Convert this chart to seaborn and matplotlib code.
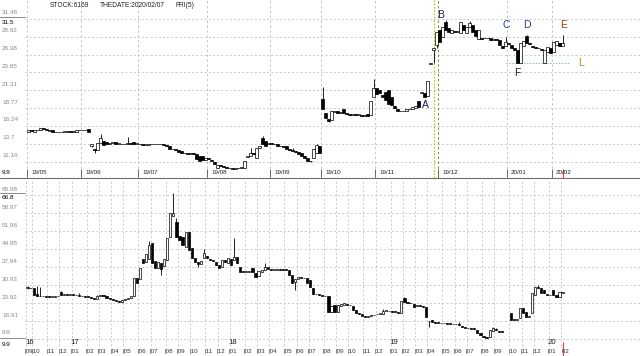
import numpy as np
import pandas as pd
import matplotlib
matplotlib.use("Agg")
import matplotlib.pyplot as plt
import matplotlib.transforms as mtrans
from matplotlib.lines import Line2D
import seaborn as sns

# ---------------- header ----------------
stock_code = "6169"
the_date = "2020/02/07"
weekday_text = "FRI(5)"

# ---------------- top panel: daily candles ----------------
top_open = [15.4,15.6,15.4,15.6,15.7,15.9,15.8,15.5,15.6,15.4,
            15.3,15.3,15.4,15.4,15.5,15.4,15.4,15.6,15.7,15.6,
            15.8,13.3,13.0,12.8,13.8,14.1,14.0,13.7,13.8,13.9,
            13.7,13.7,13.6,13.7,13.8,13.9,13.7,13.6,13.6,13.5,
            13.5,13.6,13.6,13.7,13.6,13.6,13.5,13.4,13.0,12.9,
            12.8,12.6,12.3,12.3,12.2,12.3,12.2,11.9,11.9,11.4,
            11.6,11.4,11.1,10.3,10.6,10.5,10.4,10.3,10.2,10.1,
            10.2,10.3,10.3,11.8,12.0,12.3,11.7,13.1,14.5,14.1,
            13.6,13.8,13.7,13.6,13.4,13.3,13.4,12.9,12.8,12.6,
            12.5,12.3,12.0,11.6,11.3,11.7,12.4,13.4,20.1,18.0,
            17.2,17.1,18.2,18.3,18.1,18.6,18.0,17.9,17.8,17.9,
            17.8,17.8,17.7,17.9,17.8,20.3,21.6,21.4,20.6,21.0,
            21.3,20.3,19.1,18.7,18.4,18.3,18.4,18.6,18.7,18.8,
            19.8,20.9,20.9,20.5,25.1,27.0,27.7,29.9,28.9,31.0,
            30.2,29.5,29.8,29.6,29.5,30.6,29.5,30.3,30.6,29.9,
            28.6,28.8,28.7,28.7,28.8,28.5,28.6,28.4,27.6,27.6,
            28.0,27.8,27.3,27.0,25.2,27.6,29.1,28.1,27.6,27.5,
            27.4,27.2,25.2,26.7,27.3,26.7,27.7,28.1,27.6]
top_close = [15.6,15.5,15.6,15.7,15.9,15.8,15.6,15.6,15.4,15.3,
             15.3,15.4,15.4,15.5,15.4,15.5,15.6,15.7,15.6,15.6,
             15.3,13.7,12.8,13.8,14.5,13.5,13.6,13.8,13.8,13.7,
             13.7,13.6,13.7,13.8,13.7,13.6,13.7,13.6,13.5,13.5,
             13.6,13.6,13.7,13.6,13.6,13.5,13.4,13.0,12.9,12.8,
             12.5,12.3,12.3,12.2,12.3,12.2,11.5,11.2,11.4,11.6,
             11.5,11.2,10.8,10.7,10.5,10.4,10.3,10.2,10.1,10.2,
             10.3,10.4,11.3,11.9,12.4,12.2,13.1,13.3,13.7,13.4,
             13.8,13.7,13.6,13.4,13.3,13.2,12.9,12.8,12.6,12.5,
             12.2,12.0,11.6,11.3,11.2,12.9,13.5,12.4,18.7,17.4,
             16.9,18.4,18.3,18.1,18.2,18.0,17.9,17.8,17.9,17.8,
             17.8,17.7,17.8,17.6,19.8,21.7,20.8,20.9,20.3,19.9,
             19.4,19.2,18.8,18.4,18.3,18.4,18.6,18.7,18.9,19.1,
             18.9,21.1,20.4,22.6,25.2,27.4,29.6,28.2,30.3,29.9,
             29.6,29.9,29.6,29.7,31.0,29.9,30.3,30.9,29.6,29.0,
             29.9,28.6,28.7,28.8,28.5,28.6,28.4,27.7,27.4,28.2,
             27.9,27.3,27.0,25.2,28.0,28.3,28.0,27.9,27.5,27.4,
             27.3,27.0,27.0,27.4,26.6,28.2,28.3,27.6,28.0]
top_wick_high = {4: 16.0, 5: 16.0, 24: 15.1, 33: 14.6, 74: 13.1, 78: 14.8, 88: 13.1,
                 96: 13.7, 98: 21.8, 115: 22.9, 139: 31.3, 147: 31.2, 159: 28.9,
                 166: 29.2, 178: 29.2}
top_wick_low = {21: 13.2, 22: 12.4, 94: 11.1, 100: 16.8, 135: 25.2, 136: 27.3}
top_grid = [31.46, 28.92, 26.38, 23.85, 21.31, 18.77, 16.24, 13.7, 11.16]
top_max_label = "31.5"
top_min_label = "9.9"
top_month_labels = ["19/05", "19/06", "19/07", "19/08", "19/09", "19/10",
                    "19/11", "19/12", "20/01", "20/02"]
top_month_start = [0, 18, 37, 60, 81, 98, 116, 137, 160, 175]
highlight_month = "19/12"
marker_day = 136
mark_text = ["A", "B", "C", "D", "E", "F", "L"]
mark_day = [132.2, 137.5, 159.2, 166.2, 178.2, 162.8, 184.2]
mark_price = [19.2, 32.0, 30.6, 30.6, 30.6, 23.8, 25.2]
mark_color = ["#1c1c4c", "#1c1c4c", "#1f3f8f", "#1f3f8f", "#8b4513", "#1c1c4c", "#b8862b"]
support_level = 25.15
support_days = [159, 180]

# ---------------- bottom panel: weekly candles ----------------
bot_open = [29.9,30.0,29.8,27.6,26.8,26.6,26.5,26.5,26.3,26.4,
            26.5,28.4,27.1,27.3,27.2,27.4,27.2,26.9,26.7,26.6,
            26.4,26.4,25.9,25.5,26.8,26.9,26.5,26.0,25.6,25.2,
            24.8,24.5,25.0,25.4,25.8,26.8,33.9,33.3,41.3,40.0,
            41.0,47.3,40.3,37.6,39.4,38.3,40.7,49.6,58.0,55.5,
            50.0,49.6,45.7,51.6,45.3,41.4,40.1,39.3,41.6,42.5,
            41.3,40.8,40.0,38.7,38.0,40.6,39.7,41.0,40.7,41.8,
            37.9,36.3,36.0,36.0,37.5,35.6,34.4,36.0,36.8,37.9,
            37.2,37.0,37.0,37.1,37.1,36.9,36.8,34.8,32.0,33.5,
            34.0,33.6,33.6,32.8,30.0,27.4,27.6,27.0,26.6,26.6,
            20.5,23.0,20.6,22.6,23.3,23.5,23.1,22.9,21.4,20.2,
            19.6,18.9,18.6,18.9,19.2,19.5,19.7,19.8,20.8,20.9,
            20.7,20.5,20.4,20.2,26.0,24.2,24.0,23.5,22.8,23.0,
            22.8,22.4,17.0,17.2,16.5,16.3,16.1,16.0,16.0,15.9,
            15.8,15.7,15.6,15.0,14.6,14.3,14.1,14.1,13.5,12.3,
            11.2,10.6,10.7,13.0,13.6,13.2,12.9,None,None,20.0,
            17.5,17.3,18.0,22.0,20.4,18.5,20.0,27.0,30.1,29.8,
            29.0,27.5,27.1,29.0,27.0,26.3,28.0]
bot_close = [30.2,29.7,27.2,26.6,26.6,26.5,26.4,26.3,26.4,26.5,
             26.6,27.0,27.3,27.2,27.4,27.2,27.0,26.7,26.6,26.4,
             26.3,25.9,25.6,26.8,26.9,26.6,26.0,25.7,25.2,24.8,
             24.4,25.0,25.4,25.9,26.5,33.6,31.8,37.6,39.5,43.2,
             46.5,39.5,37.6,39.8,37.2,41.3,49.2,59.0,59.0,49.6,
             48.5,46.5,51.5,44.6,41.4,39.9,39.3,40.2,43.6,41.4,
             40.8,40.2,38.8,37.6,40.6,40.0,41.4,38.9,41.8,39.5,
             36.0,36.0,36.3,36.6,36.0,34.0,36.5,36.8,37.9,37.4,
             37.0,37.1,37.2,36.9,36.9,36.8,35.0,31.7,33.4,34.0,
             33.6,33.8,31.8,30.2,27.4,27.6,27.2,26.6,26.5,20.5,
             22.8,20.5,23.0,23.5,23.9,23.1,23.0,21.4,20.1,19.6,
             18.8,18.6,18.8,19.2,19.4,19.8,19.8,20.8,21.0,20.7,
             20.5,20.4,20.0,24.8,24.4,24.0,23.8,22.4,23.2,22.7,
             22.5,18.5,16.8,16.5,16.3,16.1,16.0,16.0,15.9,15.8,
             15.7,15.6,15.5,14.6,14.3,14.1,14.0,13.9,12.2,11.4,
             10.5,10.4,13.3,14.2,13.4,12.8,12.8,None,None,17.3,
             17.3,17.6,22.0,20.0,18.6,18.9,27.8,30.1,29.7,27.8,
             27.8,27.1,27.0,27.0,26.4,28.2,28.4]
bot_wick_high = {0: 30.6, 3: 30.5, 4: 30.3, 11: 28.8, 17: 28.0, 23: 27.2, 40: 48.0,
                 48: 66.8, 49: 57.0, 58: 45.0, 68: 49.2, 78: 39.5, 117: 21.5,
                 124: 26.4, 142: 16.5, 153: 14.5, 154: 14.3, 168: 30.8}
bot_wick_low = {0: 29.6, 44: 34.8, 56: 38.0, 88: 29.0, 132: 14.6}
bot_grid = [65.98, 58.97, 51.96, 44.95, 37.94, 30.93, 23.92, 16.91, 9.9]
bot_max_label = "66.8"
bot_min_label = "9.9"
bot_last_week = "2020-02-07"

# ---------------- style ----------------
sns.set_theme(style="white")
plt.rcParams["font.family"] = ["Liberation Sans", "DejaVu Sans"]

W, H = 640, 356
SPLIT = 178
GRID = "#c4c4c4"
LBL = "#8a8a8a"
DASH = (0, (2.5, 2.5))

fig = plt.figure(figsize=(W / 100, H / 100), dpi=100)
fig.patch.set_facecolor("white")
ax_t = fig.add_axes([0, 1 - SPLIT / H, 1, SPLIT / H])
ax_b = fig.add_axes([0, 0, 1, SPLIT / H])
for ax in (ax_t, ax_b):
    ax.set_axis_off()


def price_at(py, p0, y0, p1, y1):
    return p0 + (py - y0) * (p1 - p0) / (y1 - y0)


def fy(py):
    return 1 - py / H


# top scales
T_X0, T_DX = 28.5, 3.0
T_G0, T_G1 = 19.0, 161.5
ax_t.set_xlim(-T_X0 / T_DX, (W - T_X0) / T_DX)
ax_t.set_ylim(price_at(SPLIT, top_grid[0], T_G0, top_grid[-1], T_G1),
              price_at(0, top_grid[0], T_G0, top_grid[-1], T_G1))
# bottom scales
B_X0, B_DX = 27.5, 3.04
B_G0, B_G1 = 195.4, 339.0
ax_b.set_xlim(-B_X0 / B_DX, (W - B_X0) / B_DX)
ax_b.set_ylim(price_at(H, bot_grid[0], B_G0, bot_grid[-1], B_G1),
              price_at(SPLIT, bot_grid[0], B_G0, bot_grid[-1], B_G1))


def candles(ax, o, c, wh_d, wl_d, width, min_h):
    o = np.array(o, dtype=float)
    c = np.array(c, dtype=float)
    idx = np.arange(len(o))
    top = np.fmax(o, c)
    bot = np.fmin(o, c)
    wh = top.copy()
    wl = bot.copy()
    for k, v in wh_d.items():
        wh[k] = v
    for k, v in wl_d.items():
        wl[k] = v
    ok = ~np.isnan(o)
    ax.vlines(idx[ok], wl[ok], wh[ok], color="black", lw=0.6, zorder=3)
    hgt = np.maximum(top - bot, min_h)
    up = ok & (c >= o)
    dn = ok & (c < o)
    ax.bar(idx[up], hgt[up], bottom=bot[up], width=width, color="white",
           edgecolor="black", linewidth=0.5, zorder=4)
    ax.bar(idx[dn], hgt[dn], bottom=bot[dn], width=width, color="black",
           edgecolor="black", linewidth=0.5, zorder=4)


# ---------------- top panel ----------------
xr_t = ax_t.get_xlim()[1]
ax_t.hlines(top_grid, (25 - T_X0) / T_DX, xr_t, colors=GRID, linestyles=DASH, lw=0.6, zorder=1)
bt_t = mtrans.blended_transform_factory(ax_t.transData, fig.transFigure)
for lab, s in zip(top_month_labels, top_month_start):
    xb = s - 0.5
    col = "#5aa02c" if lab == highlight_month else GRID
    ax_t.axvline(xb, color=col, ls=DASH, lw=0.7, zorder=1)
    ax_t.vlines(xb, fy(177), fy(169), colors="#555555", lw=0.6, transform=bt_t)
    ax_t.text(xb, fy(172.8), lab, fontsize=4.5, color="#222222", ha="left", va="center",
              transform=mtrans.offset_copy(bt_t, fig=fig, x=4, y=0, units="dots"))
ax_t.axvline(marker_day - 1.0, color="#c9b800", ls=(0, (1.5, 1.5)), lw=0.8, zorder=1)

candles(ax_t, top_open, top_close, top_wick_high, top_wick_low, 0.7, 0.1)

sns.lineplot(x=support_days, y=[support_level, support_level], ax=ax_t,
             color="#8fb3e0", lw=0.7, linestyle=(0, (1.5, 1.5)), zorder=2)
for t, d, p, col in zip(mark_text, mark_day, mark_price, mark_color):
    ax_t.text(d, p, t, fontsize=7.5, color=col, ha="center", va="center", zorder=6)

ax_t.vlines(len(top_open) - 1, fy(178), fy(169), colors="#e04040", lw=0.8, transform=bt_t)

lab_t = mtrans.offset_copy(mtrans.blended_transform_factory(fig.transFigure, ax_t.transData),
                           fig=fig, x=0, y=6, units="dots")
for v in top_grid:
    ax_t.text(2 / W, v, f"{v:g}", fontsize=4.6, color=LBL, ha="left", va="center", transform=lab_t)
fig.text(2 / W, fy(22.5), top_max_label, fontsize=4.6, color="black", va="center")
fig.text(2 / W, fy(173), top_min_label, fontsize=4.6, color="black", va="center")
fig.add_artist(Line2D([0, 25 / W], [fy(17.2)] * 2, transform=fig.transFigure, color="#777777", lw=0.6))

# header
fig.text(50 / W, fy(5.5), "STOCK:" + stock_code, fontsize=4.8, color="#222222", va="center")
fig.text(100 / W, fy(5.5), "THEDATE:" + the_date, fontsize=4.8, color="#222222", va="center")
fig.text(175 / W, fy(5.5), weekday_text, fontsize=4.8, color="#222222", va="center")

# separator
fig.add_artist(Line2D([0, 1], [fy(177.5)] * 2, transform=fig.transFigure, color="#707070", lw=0.8))

# ---------------- bottom panel ----------------
n_w = len(bot_open)
week_end = pd.date_range(end=bot_last_week, periods=n_w, freq="W-FRI")
week_month = (week_end - pd.Timedelta(days=4)).to_period("M")
bounds = [0] + [k for k in range(1, n_w) if week_month[k] != week_month[k - 1]]

xr_b = ax_b.get_xlim()[1]
ax_b.hlines(bot_grid, (25 - B_X0) / B_DX, xr_b, colors=GRID, linestyles=DASH, lw=0.6, zorder=1)
bt_b = mtrans.blended_transform_factory(ax_b.transData, fig.transFigure)
for k in bounds:
    xb = k - 0.5
    ax_b.vlines(xb, fy(346), fy(180), colors=GRID, linestyles=DASH, lw=0.6, transform=bt_b, zorder=1)
    mm = week_month[k].strftime("%m")
    if k == n_w - 1:
        txt = " " + mm
    else:
        txt = "|" + mm
    ax_b.text(xb, fy(351.5), txt, fontsize=4.5, color="#333333", ha="left", va="center",
              transform=mtrans.offset_copy(bt_b, fig=fig, x=-1, y=0, units="dots"))
    if k == 0 or week_month[k].month == 1:
        ax_b.text(xb, fy(343), week_month[k].strftime("%y"), fontsize=5.6, color="#222222",
                  ha="left", va="center",
                  transform=mtrans.offset_copy(bt_b, fig=fig, x=-1, y=0, units="dots"))
ax_b.vlines(n_w - 1, fy(356), fy(342), colors="#e04040", lw=0.8, transform=bt_b)

candles(ax_b, bot_open, bot_close, bot_wick_high, bot_wick_low, 0.7, 0.25)

lab_b = mtrans.offset_copy(mtrans.blended_transform_factory(fig.transFigure, ax_b.transData),
                           fig=fig, x=0, y=6, units="dots")
for v in bot_grid:
    ax_b.text(2 / W, v, f"{v:g}", fontsize=4.6, color=LBL, ha="left", va="center", transform=lab_b)
fig.text(2 / W, fy(197.5), bot_max_label, fontsize=4.6, color="black", va="center")
fig.text(2 / W, fy(344), bot_min_label, fontsize=4.6, color="black", va="center")
fig.add_artist(Line2D([0, 25 / W], [fy(192.8)] * 2, transform=fig.transFigure, color="#777777", lw=0.6))
fig.add_artist(Line2D([0, 25 / W], [fy(337.5)] * 2, transform=fig.transFigure, color="#777777", lw=0.6))

fig.savefig("out.png", dpi=100, facecolor="white")
